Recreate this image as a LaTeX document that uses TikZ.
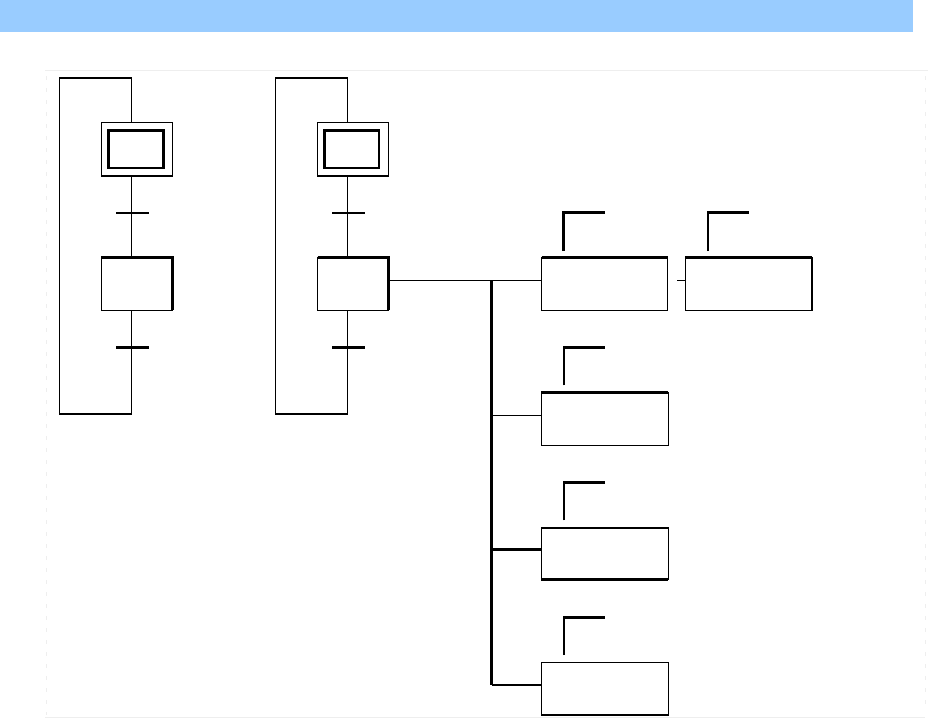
\documentclass[tikz,border=0pt]{standalone}
\definecolor{headblue}{HTML}{99CCFF}
\definecolor{faint}{HTML}{EEEEEE}
\begin{document}
\begin{tikzpicture}[x=1pt,y=-1pt,
  thinln/.style={line width=1.3pt},
  thickln/.style={line width=2.5pt},
  stepbox/.style={draw,line width=1.3pt,minimum width=71pt,minimum height=52.6pt,inner sep=0pt,outer sep=0pt},
  initbox/.style={draw,line width=1.3pt,minimum width=71pt,minimum height=53.7pt,inner sep=0pt,outer sep=0pt},
  innerbox/.style={draw,line width=2.5pt,minimum width=54.6pt,minimum height=37.7pt,inner sep=0pt,outer sep=0pt},
  actbox/.style={draw,line width=1.3pt,minimum width=126pt,minimum height=52.6pt,inner sep=0pt,outer sep=0pt},
  trans/.style={fill=black,minimum width=32.4pt,minimum height=2.6pt,inner sep=0pt,outer sep=0pt},
  bracket/.style={line width=2.5pt}]
\useasboundingbox (0,0) rectangle (930,725);
% header band
\fill[headblue] (0,0) rectangle (913,32);
% faint frame marks
\draw[faint,line width=1pt] (45,71) -- (928,71);
\draw[faint,line width=1pt] (45,717) -- (925,717);
\draw[faint,line width=1pt,dash pattern=on 4pt off 8pt] (46,76) -- (46,715);
\draw[faint,line width=1pt,dash pattern=on 4pt off 8pt] (925,76) -- (925,705);

% ---------- SFC 1 ----------
\node[initbox] (init1) at (136.8,149.2) {};
\node[innerbox] (inner1) at (136,149.2) {};
\node[stepbox] (s1) at (136.8,284) {};
\node[trans] (t11) at (132.5,213) {};
\node[trans] (t12) at (132.5,347.7) {};
\coordinate (top1) at (131.5,78);
\coordinate (bot1) at (131.5,414);
\coordinate (lb1) at (59.3,414);
\coordinate (lt1) at (59.3,78);
\draw[thickln] (s1.north west) -- (s1.north east) -- (s1.south east);
\draw[thinln] (init1.south -| top1) -- (s1.north -| top1);
\draw[thinln] (s1.south -| top1) -- (bot1) -- (lb1) -- (lt1) -- (top1) -- (init1.north -| top1);

% ---------- SFC 2 ----------
\node[initbox] (init2) at (353,149.2) {};
\node[innerbox] (inner2) at (351.8,149.2) {};
\node[stepbox] (s2) at (353,284) {};
\node[trans] (t21) at (348.3,213) {};
\node[trans] (t22) at (348.3,347.7) {};
\coordinate (top2) at (347.7,78);
\coordinate (bot2) at (347.7,414);
\coordinate (lb2) at (275.3,414);
\coordinate (lt2) at (275.3,78);
\draw[thickln] (s2.north west) -- (s2.north east) -- (s2.south east);
\draw[thinln] (init2.south -| top2) -- (s2.north -| top2);
\draw[thinln] (s2.south -| top2) -- (bot2) -- (lb2) -- (lt2) -- (top2) -- (init2.north -| top2);

% ---------- action boxes ----------
\node[actbox] (A) at (604.7,284) {};
\node[actbox,minimum width=126.7pt] (B) at (748.7,284) {};
\node[actbox,minimum width=127pt,minimum height=53pt] (C) at (604.7,418.8) {};
\node[actbox,minimum width=127pt,minimum height=51.7pt] (D) at (604.7,553.8) {};
\node[actbox,minimum width=127pt,minimum height=52.7pt] (E) at (604.7,688.7) {};
\draw[thickln] (A.north west) -- (A.north east);
\draw[thickln] (B.north west) -- (B.north east);
\draw[thickln] (C.north west) -- (C.north east);
\draw[thickln] (D.north west) -- (D.north east);
\draw[thickln] (D.south west) -- (D.south east);
\draw[thickln] (E.south west) -- (E.south east);

% bus and connectors
\coordinate (j0) at (491.7,280.3);
\coordinate (j1) at (491.7,415.3);
\coordinate (j2) at (491.7,549.7);
\coordinate (j3) at (491.7,685);
\coordinate (stub) at (677.3,280.3);
\draw[thinln] (s2.east |- j0) -- (A.west |- j0);
\draw[thickln] (j0) -- (j3);
\draw[thinln] (j1) -- (C.west |- j1);
\draw[thickln] (j2) -- (D.west |- j2);
\draw[thickln] (j3) -- (E.west |- j3);
\draw[thinln] (stub) -- (B.west |- stub);

% brackets
\draw[bracket] ([shift={(22,-6.7)}]A.north west) -- ++(0,-38.3) -- ++(41.3,0);
\draw[bracket] ([shift={(22.7,-6.7)}]B.north west) -- ++(0,-38.3) -- ++(41.3,0);
\draw[bracket] ([shift={(22.7,-7)}]C.north west) -- ++(0,-37.6) -- ++(41,0);
\draw[bracket] ([shift={(22.7,-7.7)}]D.north west) -- ++(0,-37.6) -- ++(41,0);
\draw[bracket] ([shift={(22.7,-7.3)}]E.north west) -- ++(0,-37.7) -- ++(41,0);
\end{tikzpicture}
\end{document}
